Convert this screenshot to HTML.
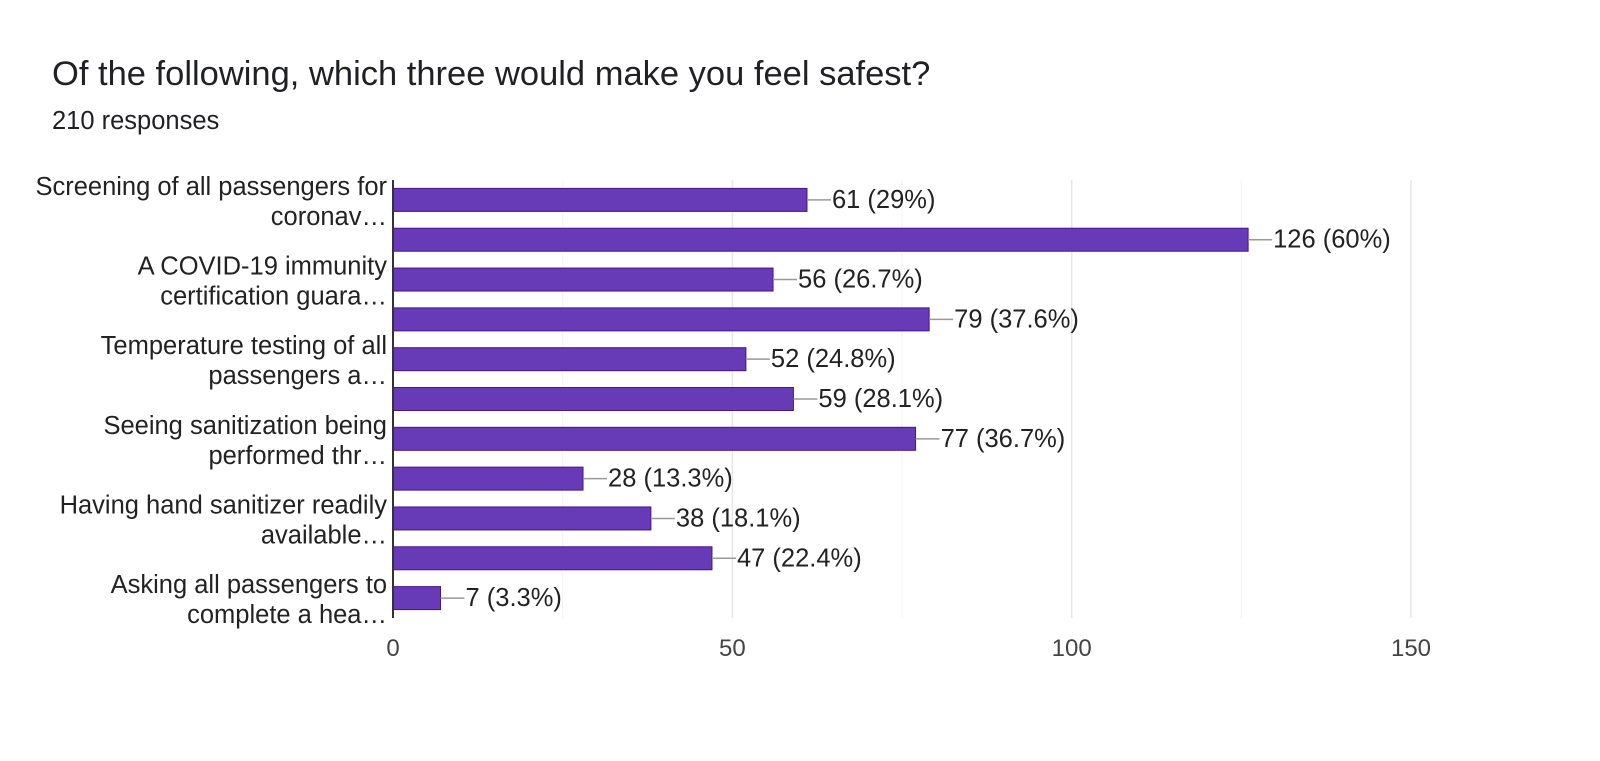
<!DOCTYPE html>
<html><head><meta charset="utf-8"><style>
body{margin:0;background:#fff;width:1600px;height:761px;overflow:hidden;font-family:"Liberation Sans",Arial,sans-serif;}
#title{position:absolute;left:52px;top:55px;font-size:34.5px;color:#202124;}
#sub{position:absolute;left:52px;top:107px;font-size:25.5px;color:#202124;}
svg{position:absolute;left:0;top:0;}
</style></head><body>
<div id="title">Of the following, which three would make you feel safest?</div>
<div id="sub">210 responses</div>
<svg id="chart" width="1600" height="761"></svg>
<script>
const categories=["Screening of all passengers for|coronav…","","A COVID-19 immunity|certification guara…","","Temperature testing of all|passengers a…","","Seeing sanitization being|performed thr…","","Having hand sanitizer readily|available…","","Asking all passengers to|complete a hea…"];
const values=[61,126,56,79,52,59,77,28,38,47,7];
const percents=["29%","60%","26.7%","37.6%","24.8%","28.1%","36.7%","13.3%","18.1%","22.4%","3.3%"];
const ticks=[0,50,100,150];
const minorTicks=[25,75,125];
const NS="http://www.w3.org/2000/svg";
const svg=document.getElementById('chart');
const x0=393,x1=1411,top0=180,bot=618,maxV=150;
const n=values.length,band=(bot-top0)/n,bh=23;
const xs=v=>x0+v/maxV*(x1-x0);
function mk(t,a,p){const e=document.createElementNS(NS,t);for(const k in a)e.setAttribute(k,a[k]);(p||svg).appendChild(e);return e;}
minorTicks.forEach(t=>{const l=mk('line',{x1:xs(t),x2:xs(t),y1:top0,y2:bot,stroke:'#f3f3f3','stroke-width':1});

});
ticks.forEach(t=>{const l=mk('line',{x1:xs(t),x2:xs(t),y1:top0,y2:bot,stroke:'#e6e6e6','stroke-width':1.5});


const tx=mk('text',{x:xs(t),y:656,'text-anchor':'middle','font-size':24,fill:'#444'});tx.textContent=t;

});
values.forEach((v,i)=>{const cy=top0+band*(i+0.5);
const r=mk('rect',{x:x0,y:cy-bh/2,width:xs(v)-x0,height:bh,fill:'#673ab7',stroke:'#4a148c','stroke-width':1});


mk('line',{x1:xs(v),x2:xs(v)+24,y1:cy,y2:cy,stroke:'#999','stroke-width':1.5});
const t=mk('text',{x:xs(v)+25,y:cy+8,'font-size':25.5,fill:'#222'});t.textContent=v+" ("+percents[i]+")";


if(categories[i]){const ls=categories[i].split('|');
ls.forEach((s,j)=>{const c=mk('text',{x:387,y:cy-5+j*30,'text-anchor':'end','font-size':25.5,fill:'#222'});c.textContent=s;

});}
});
const ax=mk('line',{x1:x0,x2:x0,y1:top0,y2:bot,stroke:'#333','stroke-width':2});


</script>
</body></html>
